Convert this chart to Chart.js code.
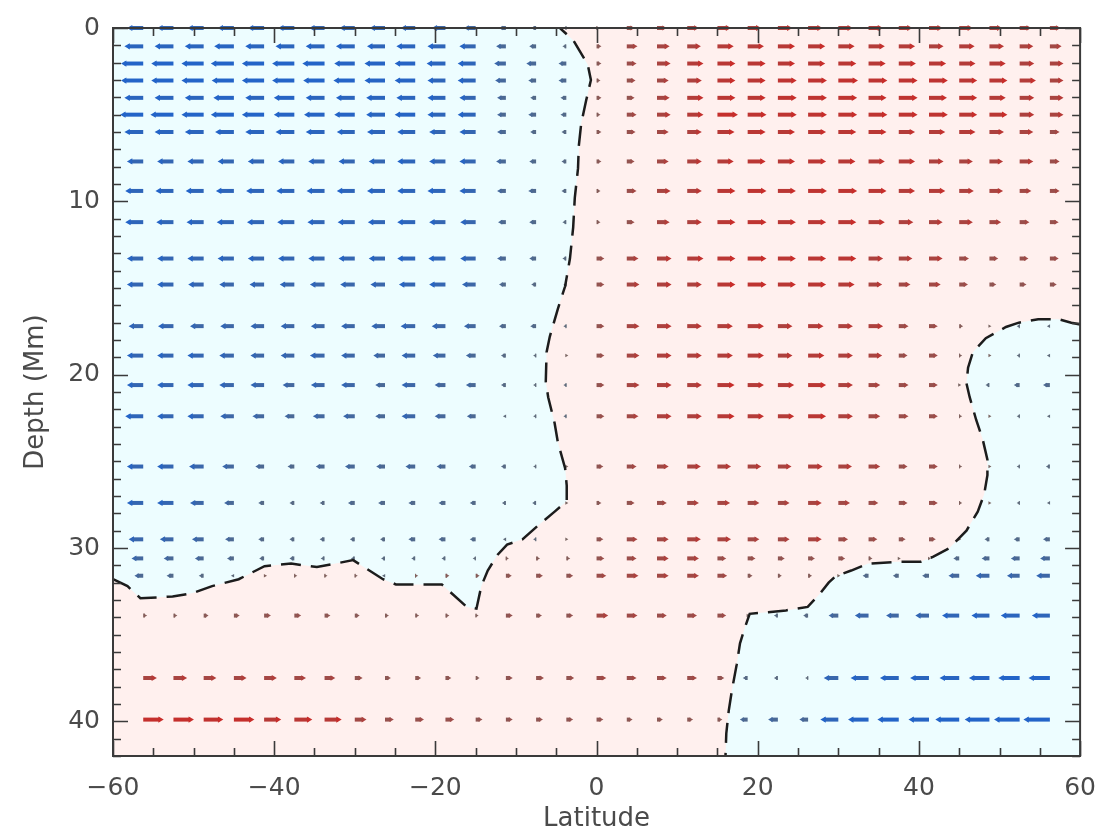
<!DOCTYPE html>
<html><head><meta charset="utf-8">
<script src="https://cdn.jsdelivr.net/npm/chart.js@4.4.1/dist/chart.umd.min.js"></script>
<style>html,body{margin:0;padding:0;background:#fff;}canvas{display:block;}</style>
</head><body>
<canvas id="c" width="1113" height="835"></canvas>
<script>
// ---------- data ----------
const latitudes = [-56.25,-52.5,-48.75,-45,-41.25,-37.5,-33.75,-30,-26.25,-22.5,-18.75,-15,-11.25,-7.5,-3.75,0,3.75,7.5,11.25,15,18.75,22.5,26.25,30,33.75,37.5,41.25,45,48.75,52.5,56.25];
const depths = [0,1.06,2.05,3.03,4.03,5.0,6.0,7.7,9.4,11.2,13.3,14.8,17.2,18.9,20.6,22.4,25.3,27.4,29.5,30.6,31.6,33.9,37.5,39.9];
// latitudinal flow (m/s) per depth row, one value per latitude
const flow_00 = [-15,-15,-15,-15,-15,-15,-14,-14,-14,-13,-12,-10,-5,-3,-1,1,6,8,10,12,12,13,13,13,13,12,12,12,11,10,9];
const flow_01 = [-18,-18,-18,-19,-18,-18,-18,-18,-17,-18,-17,-15,-8,-5,-2,3,9,11,12,15,15,16,16,15,15,15,13,14,13,12,10];
const flow_02 = [-22,-22,-22,-23,-22,-22,-22,-20,-20,-20,-18,-17,-10,-8,-6,3,8,12,15,17,17,16,16,17,16,16,16,15,15,13,12];
const flow_03 = [-22,-22,-22,-22,-22,-22,-21,-21,-20,-20,-17,-17,-9,-6,-6,2,7,10,13,17,17,18,18,19,18,18,18,17,17,15,12];
const flow_04 = [-18,-18,-18,-20,-18,-20,-18,-18,-18,-18,-17,-15,-7,-4,-4,3,6,11,15,17,17,18,18,18,17,18,17,17,15,13,12];
const flow_05 = [-23,-23,-22,-23,-22,-20,-20,-20,-18,-20,-17,-17,-7,-6,-4,2,8,12,15,20,18,18,18,18,18,18,18,17,17,13,12];
const flow_06 = [-18,-18,-18,-18,-18,-18,-18,-17,-17,-17,-15,-15,-7,-4,-3,3,7,10,13,16,17,16,17,17,17,15,15,15,13,12,8];
const flow_07 = [-15,-15,-15,-15,-15,-15,-15,-15,-15,-17,-15,-15,-8,-5,-3,3,6,10,13,15,17,16,17,16,15,15,13,12,12,12,8];
const flow_08 = [-17,-17,-17,-17,-17,-17,-17,-17,-17,-17,-17,-15,-7,-6,-3,2,8,12,13,17,18,17,18,18,17,15,15,13,12,10,8];
const flow_09 = [-17,-16,-16,-16,-16,-16,-16,-16,-16,-17,-15,-14,-6,-5,-2,2,6,11,13,17,18,17,17,17,15,13,12,12,10,8,7];
const flow_10 = [-15,-15,-15,-15,-15,-15,-15,-15,-15,-17,-16,-14,-7,-5,-2,6,10,13,15,17,18,17,17,17,13,12,12,8,7,7,7];
const flow_11 = [-15,-15,-14,-13,-13,-13,-13,-13,-13,-15,-15,-12,-5,-3,-1,6,11,13,13,17,18,17,17,15,12,10,10,7,5,5,5];
const flow_12 = [-13,-14,-12,-12,-12,-12,-12,-12,-12,-13,-12,-10,-5,-4,-1,6,11,13,13,14,15,13,14,13,13,8,7,2,0,-1,-1];
const flow_13 = [-15,-15,-15,-13,-12,-12,-13,-12,-10,-12,-11,-8,-3,-1,0,6,11,13,13,14,15,13,15,13,12,7,7,1,0,-1,-1];
const flow_14 = [-15,-15,-15,-13,-12,-10,-12,-12,-8,-12,-9,-8,-3,-1,-1,6,11,13,13,16,15,15,17,13,10,8,7,0,-2,-4,-5];
const flow_15 = [-17,-15,-15,-12,-10,-8,-10,-10,-8,-12,-9,-7,-1,-1,-1,6,10,13,13,16,15,15,17,13,10,8,7,1,0,-1,-1];
const flow_16 = [-15,-15,-13,-10,-7,-5,-7,-8,-7,-8,-7,-5,-3,-1,0,5,8,10,12,12,12,12,13,12,10,7,7,1,0,-1,-2];
const flow_17 = [-15,-15,-12,-8,-4,-3,-3,-5,-5,-5,-5,-4,-2,-2,0,3,6,8,10,11,10,10,12,10,8,7,7,1,0,-1,-1];
const flow_18 = [-13,-12,-10,-7,-4,-3,-3,-3,-3,-5,-5,-4,-1,-1,0,5,9,10,12,12,10,10,12,8,7,5,5,0,-3,-4,-5];
const flow_19 = [-10,-8,-7,-5,-3,-3,-2,-2,-2,-2,-2,-1,1,2,2,6,8,10,10,7,6,5,5,5,2,0,0,-4,-6,-7,-8];
const flow_20 = [-7,-5,-3,-1,1,1,1,1,-1,1,2,2,4,5,5,8,10,10,10,8,3,2,2,0,-4,-4,-5,-9,-12,-11,-12];
const flow_21 = [2,2,3,4,5,5,4,3,2,2,2,1,5,4,5,10,9,8,8,7,0,-2,-3,-8,-12,-11,-12,-16,-17,-18,-17];
const flow_22 = [12,12,11,11,11,10,9,6,4,4,4,2,5,6,6,8,8,8,8,5,-3,-2,-1,-13,-17,-18,-18,-19,-20,-21,-21];
const flow_23 = [20,20,19,20,16,17,16,10,7,7,7,5,5,5,5,5,4,4,4,3,-6,-8,-7,-17,-20,-21,-20,-24,-25,-26,-27];

// zero-flow contour lines
const westContourLat   = [-60,-58.2,-56.6,-52.6,-50.1,-47.7,-44.4,-41.2,-37.9,-34.7,-32.4,-30.2,-26.5,-24.9,-21.2,-19.2,-16.1,-14.9,-14.3,-13.5,-12.3,-11.1,-9.2,-7.0,-5.2,-3.7,-3.7,-3.9,-4.8,-5.2,-6.0,-6.3,-6.2,-5.8,-4.8,-3.9,-3.3,-2.9,-2.7,-2.3,-2.2,-1.9,-1.3,-0.7,-1.1,-2.9,-4.55];
const westContourDepth = [31.8,32.2,32.9,32.8,32.6,32.2,31.8,31.05,30.9,31.1,30.9,30.7,31.8,32.1,32.1,32.1,33.4,33.5,32.2,31.3,30.4,29.8,29.5,28.6,27.9,27.3,26.4,25.4,23.9,22.8,21.3,20.4,18.7,17.8,16.2,14.9,13.3,11.5,9.8,8.1,6.8,5.5,4.2,3.0,2.1,0.7,0];
const eastContourLat   = [60,58.9,57.3,54.8,52.4,50.8,48.3,46.7,46.1,45.9,46.3,47.1,47.9,48.5,48.5,48.1,47.3,45.9,43.8,41.8,40.2,37.3,33.7,31.6,29.6,28.8,27.6,26.2,23.5,21.3,19.0,18.4,17.8,17.4,16.8,16.4,16.1,16.0];
const eastContourDepth = [17.1,17.0,16.8,16.8,17.0,17.25,17.9,18.7,19.6,20.5,21.3,22.6,23.7,24.9,25.8,26.9,27.9,29.0,30.0,30.5,30.8,30.8,30.9,31.3,31.65,32.0,32.7,33.4,33.6,33.7,33.8,34.6,35.5,36.7,38.2,39.4,40.7,42];

// axes
const latRange = [-60, 60];
const depthRange = [0, 42];
const latTickLabels = [-60,-40,-20,0,20,40,60];
const depthTickLabels = [0,10,20,30,40];

// ---------- styling ----------
const ARROW_SCALE = 0.105;      // degrees of latitude per m/s
const FONT = "'DejaVu Sans', sans-serif";
const TEXT = '#4a4a4a';
const CYAN = '#edfdff';
const PINK = '#fff0ee';

function mix(a, b, t) { return a.map((v, i) => Math.round(v + (b[i] - v) * t)); }
function arrowColor(u) {
  const t = Math.pow(Math.min(1, Math.abs(u) / 21), 0.9);
  const c = u < 0 ? mix([100,108,116], [35,100,200], t) : mix([122,102,98], [200,45,42], t);
  return 'rgb(' + c.join(',') + ')';
}

const flowRows = [flow_00,flow_01,flow_02,flow_03,flow_04,flow_05,flow_06,flow_07,flow_08,flow_09,flow_10,flow_11,flow_12,flow_13,flow_14,flow_15,flow_16,flow_17,flow_18,flow_19,flow_20,flow_21,flow_22,flow_23];

const toPoints = (lats, deps) => lats.map((x, i) => ({x, y: deps[i]}));
const westContour = toPoints(westContourLat, westContourDepth);
const eastContour = toPoints(eastContourLat, eastContourDepth);
const westRegion = [{x: latRange[0], y: depthRange[0]}].concat(westContour);
const eastRegion = eastContour.concat([{x: latRange[1], y: depthRange[1]}]);

const datasets = [];
datasets.push({type:'line', data: westRegion, fill:'shape', backgroundColor: CYAN, borderColor:'rgba(0,0,0,0)', borderWidth:0, pointRadius:0, tension:0, order:20});
datasets.push({type:'line', data: eastRegion, fill:'shape', backgroundColor: CYAN, borderColor:'rgba(0,0,0,0)', borderWidth:0, pointRadius:0, tension:0, order:19});

depths.forEach((d, r) => {
  const data = [];
  latitudes.forEach((lat, c) => {
    const u = flowRows[r][c];
    data.push({x: lat, y: d, u, head: false});
    data.push({x: lat + u * ARROW_SCALE, y: d, u, head: true});
    data.push({x: lat, y: null});
  });
  datasets.push({
    type:'line', data, fill:false, tension:0, spanGaps:false, clip:false,
    borderWidth: 4, borderCapStyle:'butt', borderColor:'#777',
    segment: { borderColor: ctx => arrowColor(ctx.chart.data.datasets[ctx.datasetIndex].data[ctx.p0DataIndex].u) },
    pointStyle:'triangle',
    pointRadius: ctx => (ctx.raw && ctx.raw.head) ? 2 + Math.min(1.6, Math.abs(ctx.raw.u) / 8) : 0,
    pointRotation: ctx => (ctx.raw && ctx.raw.u < 0) ? -90 : 90,
    pointBackgroundColor: ctx => ctx.raw && ctx.raw.u !== undefined ? arrowColor(ctx.raw.u * 1.3) : 'rgba(0,0,0,0)',
    pointBorderWidth: 0,
    order: 5
  });
});

datasets.push({type:'line', data: westContour, fill:false, borderColor:'#1c1c1c', borderWidth:2.5, borderDash:[20,10], pointRadius:0, tension:0, order:1});
datasets.push({type:'line', data: eastContour, fill:false, borderColor:'#1c1c1c', borderWidth:2.5, borderDash:[20,10], pointRadius:0, tension:0, order:1});

const bgPlugin = {
  id: 'plotBg',
  beforeDatasetsDraw(chart) {
    const {ctx, chartArea: a} = chart;
    ctx.save(); ctx.fillStyle = PINK; ctx.fillRect(a.left, a.top, a.width, a.height); ctx.restore();
  }
};
const framePlugin = {
  id: 'frameTicks',
  afterDatasetsDraw(chart) {
    const {ctx, chartArea: a, scales: {x, y}} = chart;
    ctx.save();
    ctx.strokeStyle = '#3a3a3a';
    ctx.lineWidth = 1.6;
    ctx.beginPath();
    for (let v = latRange[0]; v <= latRange[1]; v += 5) {
      const p = Math.round(x.getPixelForValue(v)) + 0.5;
      const len = v % 20 === 0 ? 15 : 8;
      ctx.moveTo(p, a.bottom); ctx.lineTo(p, a.bottom - len);
      ctx.moveTo(p, a.top); ctx.lineTo(p, a.top + len);
    }
    for (let v = depthRange[0]; v <= depthRange[1]; v += 1) {
      const p = Math.round(y.getPixelForValue(v)) + 0.5;
      const len = v % 10 === 0 ? 15 : 8;
      ctx.moveTo(a.left, p); ctx.lineTo(a.left + len, p);
      ctx.moveTo(a.right, p); ctx.lineTo(a.right - len, p);
    }
    ctx.stroke();
    ctx.lineWidth = 2;
    ctx.strokeRect(a.left, a.top, a.width, a.height);
    ctx.restore();
  }
};

const fmt = v => (v < 0 ? '\u2212' + Math.abs(v) : String(v));

new Chart(document.getElementById('c'), {
  type: 'scatter',
  data: { datasets },
  plugins: [bgPlugin, framePlugin],
  options: {
    responsive: false,
    animation: false,
    events: [],
    devicePixelRatio: 1,
    layout: { padding: { top: 13, right: 17, bottom: 0, left: 0 } },
    plugins: { legend: { display: false }, tooltip: { enabled: false } },
    scales: {
      x: {
        type: 'linear', min: latRange[0], max: latRange[1],
        grid: { display: false, drawTicks: false },
        border: { display: false },
        afterFit: s => { s.height = 79; },
        afterBuildTicks: s => { s.ticks = latTickLabels.map(v => ({value: v})); },
        ticks: { autoSkip: false, maxRotation: 0, padding: 17, color: TEXT, font: { family: FONT, size: 25 }, callback: v => fmt(v) },
        title: { display: true, text: 'Latitude', color: TEXT, font: { family: FONT, size: 26 }, padding: { top: 0, bottom: 0 } }
      },
      y: {
        type: 'linear', reverse: true, min: depthRange[0], max: depthRange[1],
        grid: { display: false, drawTicks: false },
        border: { display: false },
        afterFit: s => { s.width = 113; },
        afterBuildTicks: s => { s.ticks = depthTickLabels.map(v => ({value: v})); },
        ticks: { autoSkip: false, padding: 13, color: TEXT, font: { family: FONT, size: 25 }, callback: v => fmt(v) },
        title: { display: true, text: 'Depth (Mm)', color: TEXT, font: { family: FONT, size: 26 }, padding: { top: 21, bottom: 0 } }
      }
    }
  }
});
</script>
</body></html>
